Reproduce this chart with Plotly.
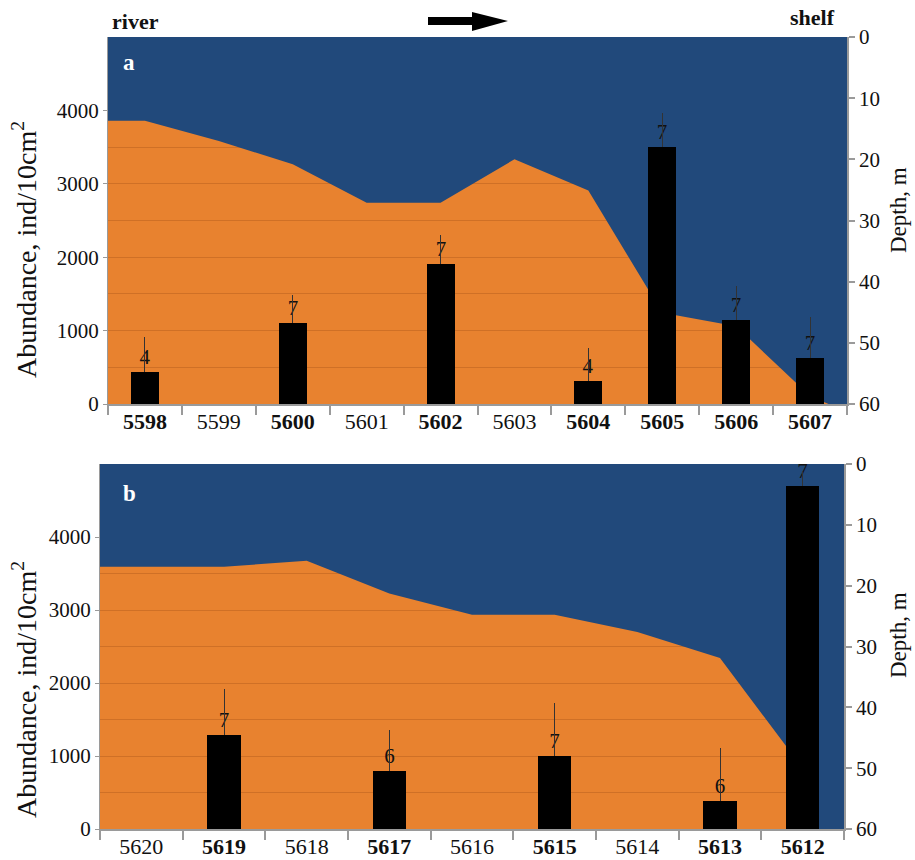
import plotly.graph_objects as go

# ---------------- data ----------------
stations_a = ["5598", "5599", "5600", "5601", "5602", "5603", "5604", "5605", "5606", "5607"]
sampled_a = [True, False, True, False, True, False, True, True, True, True]
abund_a = [440, None, 1100, None, 1910, None, 320, 3500, 1140, 620]
err_a = [474, 0, 387, 0, 395, 0, 444, 470, 470, 567]
n_a = ["4", "", "7", "", "7", "", "4", "7", "7", "7"]
prof_pos_a = [-0.5, 0, 1, 2, 3, 4, 5, 6, 7, 8, 9, 9.25, 9.5]
prof_depth_a = [13.7, 13.7, 17.0, 20.8, 27.1, 27.1, 20.0, 25.1, 45.1, 47.3, 58.7, 60, 60]

stations_b = ["5620", "5619", "5618", "5617", "5616", "5615", "5614", "5613", "5612"]
sampled_b = [False, True, False, True, False, True, False, True, True]
abund_b = [None, 1290, None, 800, None, 1000, None, 390, 4700]
err_b = [0, 628, 0, 556, 0, 726, 0, 720, 200]
n_b = ["", "7", "", "6", "", "7", "", "6", "7"]
prof_pos_b = [-0.5, 0, 1, 2, 3, 4, 5, 6, 7, 8, 8, 8.5]
prof_depth_b = [16.9, 16.9, 16.9, 15.9, 21.3, 24.8, 24.8, 27.6, 31.9, 50, 60, 60]

abund_ticks = [0, 1000, 2000, 3000, 4000]
abund_minor = [500, 1500, 2500, 3500, 4500]
depth_ticks = [0, 10, 20, 30, 40, 50, 60]

# ---------------- style ----------------
SERIF = "Liberation Serif"
BLUE = "#21497B"
ORANGE = "#E8822F"
GRID = "rgba(170,85,25,0.4)"
AX = "#9a9a9a"
W, H = 915, 860

fig = go.Figure()


def add_panel(stations, sampled, abund, err, ntxt, ppos, pdepth, xax, ydepth, yab, bw):
    n = len(stations)
    wx = list(ppos) + [n - 0.5, -0.5]
    wy = list(pdepth) + [0, 0]
    fig.add_trace(go.Scatter(
        x=wx, y=wy, mode="lines", fill="toself", fillcolor=BLUE,
        line=dict(width=0, color=BLUE), xaxis=xax, yaxis=ydepth,
        hoverinfo="skip", showlegend=False))
    idx = [i for i in range(n) if abund[i] is not None]
    fig.add_trace(go.Bar(
        x=idx, y=[abund[i] for i in idx], width=bw,
        marker=dict(color="black", line=dict(width=0)),
        text=[ntxt[i] for i in idx], textposition="outside", cliponaxis=False,
        textfont=dict(family=SERIF, size=21, color="#111"),
        error_y=dict(type="data", symmetric=False, array=[err[i] for i in idx],
                     arrayminus=[0] * len(idx), color="#333", thickness=1, width=0),
        xaxis=xax, yaxis=yab, showlegend=False))


add_panel(stations_a, sampled_a, abund_a, err_a, n_a, prof_pos_a, prof_depth_a, "x", "y", "y2", 0.38)
add_panel(stations_b, sampled_b, abund_b, err_b, n_b, prof_pos_b, prof_depth_b, "x2", "y3", "y4", 0.40)


def px(v):
    return v / W


def py(v):
    return 1 - v / H


def xaxis_cfg(stations, sampled, dom, anchor):
    n = len(stations)
    return dict(
        domain=dom, range=[-0.5, n - 0.5], anchor=anchor, automargin=False,
        tickmode="array", tickvals=list(range(n)),
        ticktext=[("<b>%s</b>" % s) if b else s for s, b in zip(stations, sampled)],
        ticks="", ticklabelstandoff=-3,
        tickfont=dict(family=SERIF, size=22, color="#111"),
        showline=True, linecolor=AX, linewidth=1.5, showgrid=False, zeroline=False,
        minor=dict(tickmode="array", tickvals=[i - 0.5 for i in range(n + 1)],
                   ticks="outside", ticklen=9, tickwidth=1.5, tickcolor=AX, showgrid=False),
    )


def depth_cfg(dom, anchor):
    return dict(
        domain=dom, range=[60, 0], side="right", anchor=anchor, automargin=False,
        tickmode="array", tickvals=depth_ticks, ticks="outside", ticklen=6,
        tickwidth=1.5, tickcolor=AX,
        tickfont=dict(family=SERIF, size=21, color="#111"),
        showline=True, linecolor=AX, linewidth=1.5, showgrid=False, zeroline=False,
    )


def abund_cfg(over, anchor):
    return dict(
        overlaying=over, side="left", anchor=anchor, range=[0, 5000], automargin=False,
        tickmode="array", tickvals=abund_ticks, ticks="outside", ticklen=4,
        tickwidth=1, tickcolor=AX,
        tickfont=dict(family=SERIF, size=21, color="#111"),
        showline=True, linecolor=AX, linewidth=1, zeroline=False,
        showgrid=True, gridcolor=GRID, gridwidth=1,
        minor=dict(tickmode="array", tickvals=abund_minor, showgrid=True,
                   gridcolor=GRID, gridwidth=1, ticks=""),
    )


fig.update_layout(
    width=W, height=H, margin=dict(l=0, r=0, t=0, b=0, autoexpand=False),
    paper_bgcolor="white", plot_bgcolor=ORANGE,
    font=dict(family=SERIF, color="#111"),
    bargap=0, showlegend=False,
    xaxis=xaxis_cfg(stations_a, sampled_a, [px(108), px(847)], "y"),
    yaxis=depth_cfg([py(404), py(37)], "x"),
    yaxis2=abund_cfg("y", "x"),
    xaxis2=xaxis_cfg(stations_b, sampled_b, [px(100), px(844)], "y3"),
    yaxis3=depth_cfg([py(829), py(464)], "x2"),
    yaxis4=abund_cfg("y3", "x2"),
)

ann = []
ann.append(dict(text="<b>a</b>", x=px(129), y=py(63), font=dict(size=23, color="white")))
ann.append(dict(text="<b>b</b>", x=px(129), y=py(493), font=dict(size=23, color="white")))
ann.append(dict(text="<b>river</b>", x=px(135), y=py(22), font=dict(size=22, color="#111")))
ann.append(dict(text="<b>shelf</b>", x=px(812), y=py(18), font=dict(size=22, color="#111")))
ann.append(dict(text="Abundance, ind/10cm<sup>2</sup>", x=px(24), y=py(250), textangle=-90,
                font=dict(size=28, color="#111")))
ann.append(dict(text="Abundance, ind/10cm<sup>2</sup>", x=px(24), y=py(690), textangle=-90,
                font=dict(size=28, color="#111")))
ann.append(dict(text="Depth, m", x=px(898), y=py(210), textangle=-90,
                font=dict(size=23, color="#111")))
ann.append(dict(text="Depth, m", x=px(898), y=py(635), textangle=-90,
                font=dict(size=23, color="#111")))
for a in ann:
    a.update(xref="paper", yref="paper", showarrow=False, xanchor="center", yanchor="middle")
    a["font"]["family"] = SERIF
fig.update_layout(annotations=ann)

# direction arrow (decoration, paper coordinates)
pts = [(428, 17), (472, 17), (472, 12), (508, 21), (472, 31), (472, 25), (428, 25)]
path = "M " + " L ".join("%.5f,%.5f" % (px(a), py(b)) for a, b in pts) + " Z"
fig.add_shape(type="path", path=path, xref="paper", yref="paper",
              fillcolor="black", line=dict(width=0, color="black"))

fig.write_html("out.html", config={"displayModeBar": False},
               post_script="document.body.style.margin='0';document.body.style.overflow='hidden';")
